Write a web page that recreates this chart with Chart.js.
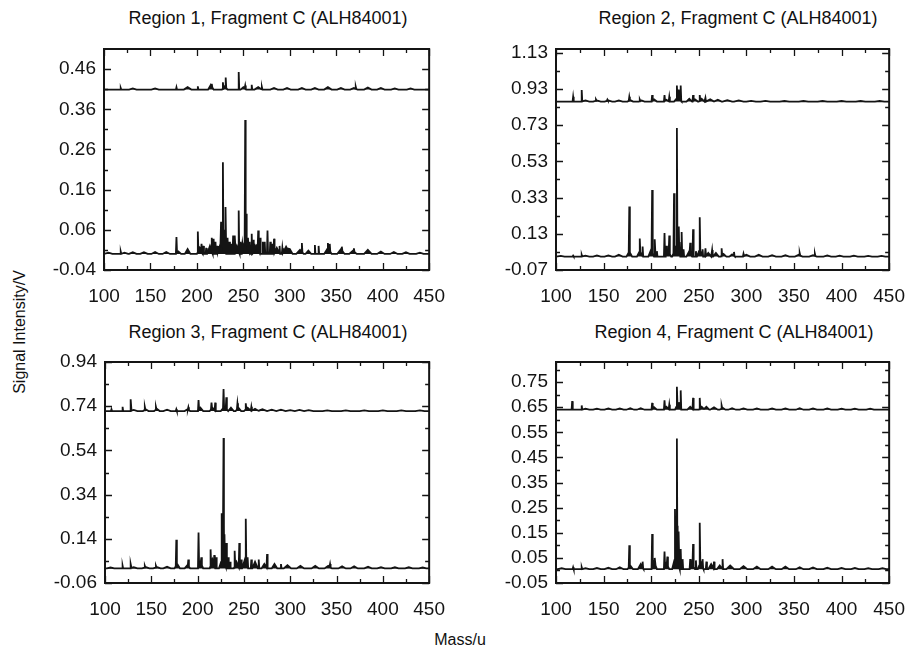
<!DOCTYPE html>
<html>
<head>
<meta charset="utf-8">
<title>ALH84001 Fragment C spectra</title>
<script src="https://cdn.jsdelivr.net/npm/chart.js@4.4.1/dist/chart.umd.min.js"></script>
<style>
    html, body { margin: 0; padding: 0; background: #fff; }
    #page {
        position: relative;
        width: 920px;
        height: 653px;
        font-family: "Liberation Sans", Arial, sans-serif;
        color: #111;
    }
    .panel { position: absolute; }
    .ttl {
        position: absolute;
        font-size: 18px;
        white-space: nowrap;
        transform: translate(-50%, -50%);
    }
    #ylab {
        position: absolute;
        left: 20px;
        top: 332px;
        font-size: 16px;
        white-space: nowrap;
        transform: translate(-50%, -50%) rotate(-90deg);
    }
    #xlab {
        position: absolute;
        left: 460px;
        top: 640px;
        font-size: 16px;
        transform: translate(-50%, -50%);
    }
</style>
</head>
<body>
<div id="page">
    <div class="ttl" style="left:268px; top:18px">Region 1, Fragment C (ALH84001)</div>
    <div class="ttl" style="left:738px; top:18px">Region 2, Fragment C (ALH84001)</div>
    <div class="ttl" style="left:268px; top:332px">Region 3, Fragment C (ALH84001)</div>
    <div class="ttl" style="left:734px; top:332px">Region 4, Fragment C (ALH84001)</div>
    <div id="ylab">Signal Intensity/V</div>
    <div id="xlab">Mass/u</div>
    <canvas id="c1" class="panel" width="460" height="310" style="left:0; top:0"></canvas>
    <canvas id="c2" class="panel" width="460" height="310" style="left:460px; top:0"></canvas>
    <canvas id="c3" class="panel" width="460" height="310" style="left:0; top:313px"></canvas>
    <canvas id="c4" class="panel" width="460" height="310" style="left:460px; top:313px"></canvas>
</div>
<script>
// ---- data ----
// mass axis (u): labelled ticks, minor ticks fall half way between
const massLabels = [100, 150, 200, 250, 300, 350, 400, 450];

// y axes (V): [min, max] and the labelled tick values
const yRange1 = [-0.04, 0.51];
const yLabels1 = [-0.04, 0.06, 0.16, 0.26, 0.36, 0.46];
const yRange2 = [-0.07, 1.15];
const yLabels2 = [-0.07, 0.13, 0.33, 0.53, 0.73, 0.93, 1.13];
const yRange3 = [-0.06, 0.94];
const yLabels3 = [-0.06, 0.14, 0.34, 0.54, 0.74, 0.94];
const yRange4 = [-0.05, 0.83];
const yLabels4 = [-0.05, 0.05, 0.15, 0.25, 0.35, 0.45, 0.55, 0.65, 0.75];

// baselines of the lower and the offset upper trace, per region
const base1 = [0.0, 0.409];
const base2 = [0.004, 0.86];
const base3 = [0.006, 0.718];
const base4 = [0.005, 0.64];

// peaks as [mass, height above baseline, half width in u]
const r1Low = [
    [105, 0.003, 4], [118, 0.006, 0.6], [122, 0.003, 4], [131, 0.004, 4], [143, 0.004, 4],
    [155, 0.005, 4], [167, 0.005, 4], [178, 0.042, 0.6], [180, 0.006, 3], [190, 0.012, 3],
    [201, 0.056, 0.6], [203, 0.015, 3], [205, 0.025, 0.6], [207, 0.02, 0.6], [210, 0.015, 0.6],
    [214, 0.02, 3], [216, 0.04, 0.6], [218, 0.038, 0.6], [220, 0.03, 0.6], [222, 0.02, 0.6],
    [226, 0.03, 4], [226, 0.08, 0.6], [228, 0.228, 0.6], [230, 0.06, 0.6], [231, 0.117, 0.6],
    [233, 0.04, 0.6], [235, 0.03, 0.6], [237, 0.025, 0.6], [239, 0.046, 0.6], [241, 0.046, 0.6],
    [243, 0.02, 3], [245, 0.108, 0.6], [247, 0.03, 0.6], [249, 0.025, 0.6], [252, 0.035, 4],
    [252, 0.333, 0.6], [253, 0.1, 0.6], [255, 0.04, 0.6], [256, 0.03, 0.6], [257, 0.03, 0.6],
    [259, 0.05, 0.6], [261, 0.035, 0.6], [262, 0.025, 0.6], [264, 0.02, 4], [266, 0.058, 0.6],
    [268, 0.04, 0.6], [271, 0.03, 0.6], [273, 0.03, 0.6], [276, 0.058, 0.6], [279, 0.03, 0.6],
    [281, 0.025, 0.6], [283, 0.038, 0.6], [286, 0.015, 3], [289, 0.02, 0.6], [292, 0.015, 0.6],
    [296, 0.018, 4], [300, 0.012, 3], [311, 0.01, 4], [313, 0.027, 0.6], [320, 0.008, 3],
    [327, 0.022, 0.6], [331, 0.02, 0.6], [341, 0.015, 4], [341, 0.027, 0.6], [343, 0.025, 0.6],
    [355, 0.012, 4], [356, 0.018, 0.6], [368, 0.008, 4], [369, 0.014, 0.6], [384, 0.01, 4],
    [398, 0.006, 4], [412, 0.005, 4], [425, 0.004, 4], [440, 0.003, 4]
];
const r1High = [
    [118, 0.004, 0.6], [131, 0.003, 4], [155, 0.003, 4], [178, 0.006, 0.6], [190, 0.006, 4],
    [201, 0.008, 0.6], [215, 0.012, 3], [216, 0.014, 0.6], [228, 0.018, 0.6], [230, 0.008, 3],
    [231, 0.03, 0.6], [245, 0.044, 0.6], [250, 0.006, 3], [252, 0.01, 0.6], [259, 0.012, 0.6],
    [266, 0.006, 4], [270, 0.006, 0.6], [283, 0.004, 4], [297, 0.004, 4], [313, 0.004, 4],
    [327, 0.004, 4], [341, 0.006, 4], [355, 0.004, 4], [369, 0.004, 4], [371, 0.007, 0.6],
    [384, 0.005, 4], [398, 0.004, 4], [413, 0.003, 4], [430, 0.003, 4]
];

const r2Low = [
    [105, 0.004, 4], [118, 0.005, 0.6], [127, 0.01, 0.6], [131, 0.005, 4], [143, 0.006, 4],
    [155, 0.007, 4], [166, 0.01, 4], [177, 0.028, 3], [177, 0.276, 0.6], [188, 0.03, 3],
    [188, 0.1, 0.6], [191, 0.056, 0.6], [200, 0.04, 3], [201, 0.368, 0.6], [204, 0.096, 0.6],
    [206, 0.03, 0.6], [214, 0.13, 0.6], [216, 0.06, 0.6], [218, 0.03, 3], [219, 0.116, 0.6],
    [224, 0.35, 0.6], [226, 0.05, 4], [227, 0.71, 0.6], [229, 0.166, 0.6], [230, 0.08, 0.6],
    [232, 0.136, 0.6], [234, 0.04, 0.6], [240, 0.03, 3], [241, 0.076, 0.6], [244, 0.151, 0.6],
    [247, 0.03, 0.6], [251, 0.04, 3], [251, 0.217, 0.6], [254, 0.04, 0.6], [257, 0.046, 0.6],
    [260, 0.02, 3], [264, 0.036, 0.6], [268, 0.02, 3], [274, 0.046, 0.6], [276, 0.015, 3],
    [285, 0.012, 3], [287, 0.026, 0.6], [297, 0.016, 0.6], [300, 0.01, 4], [313, 0.01, 4],
    [327, 0.008, 4], [341, 0.008, 4], [355, 0.01, 4], [356, 0.02, 0.6], [370, 0.008, 4],
    [372, 0.016, 0.6], [385, 0.006, 4], [398, 0.005, 4], [413, 0.005, 4], [428, 0.004, 4],
    [442, 0.004, 4]
];
const r2High = [
    [118, 0.026, 0.6], [127, 0.064, 0.6], [131, 0.006, 4], [142, 0.011, 0.6], [143, 0.006, 4],
    [154, 0.011, 0.6], [155, 0.006, 4], [166, 0.006, 4], [177, 0.026, 0.6], [178, 0.008, 3],
    [188, 0.011, 0.6], [190, 0.006, 3], [201, 0.036, 0.6], [203, 0.012, 3], [214, 0.036, 0.6],
    [216, 0.01, 3], [219, 0.026, 0.6], [227, 0.088, 0.6], [228, 0.025, 4], [229, 0.066, 0.6],
    [231, 0.088, 0.6], [240, 0.015, 3], [244, 0.036, 0.6], [246, 0.012, 3], [251, 0.036, 0.6],
    [253, 0.015, 3], [257, 0.021, 0.6], [262, 0.012, 4], [270, 0.01, 4], [280, 0.008, 5],
    [292, 0.006, 5], [305, 0.004, 5], [320, 0.004, 5], [340, 0.003, 5], [360, 0.003, 5],
    [380, 0.003, 5], [400, 0.003, 5], [420, 0.003, 5], [440, 0.003, 5]
];

const r3Low = [
    [106, 0.004, 4], [119, 0.012, 0.6], [128, 0.02, 0.6], [131, 0.005, 4], [143, 0.012, 0.6],
    [144, 0.006, 4], [155, 0.012, 0.6], [156, 0.006, 4], [167, 0.008, 4], [177, 0.13, 0.6],
    [178, 0.02, 3], [189, 0.015, 3], [190, 0.04, 0.6], [201, 0.162, 0.6], [203, 0.03, 3],
    [204, 0.05, 0.6], [214, 0.086, 0.6], [216, 0.04, 3], [218, 0.06, 0.6], [220, 0.05, 0.6],
    [226, 0.25, 0.6], [227, 0.05, 4], [228, 0.59, 0.6], [229, 0.155, 0.6], [231, 0.115, 0.6],
    [233, 0.05, 0.6], [235, 0.03, 0.6], [240, 0.08, 0.6], [242, 0.03, 3], [245, 0.115, 0.6],
    [247, 0.04, 0.6], [251, 0.04, 3], [252, 0.225, 0.6], [254, 0.05, 0.6], [258, 0.04, 0.6],
    [262, 0.03, 3], [266, 0.04, 0.6], [272, 0.02, 3], [275, 0.065, 0.6], [283, 0.02, 3],
    [290, 0.02, 0.6], [297, 0.015, 4], [311, 0.012, 4], [327, 0.012, 4], [341, 0.012, 4],
    [343, 0.02, 0.6], [356, 0.01, 4], [369, 0.01, 4], [384, 0.008, 4], [398, 0.006, 4],
    [413, 0.005, 4], [428, 0.005, 4], [443, 0.004, 4]
];
const r3High = [
    [107, 0.008, 0.6], [119, 0.019, 0.6], [128, 0.053, 0.6], [131, 0.005, 4], [143, 0.019, 0.6],
    [144, 0.008, 3], [155, 0.019, 0.6], [156, 0.01, 3], [167, 0.006, 4], [177, 0.008, 0.6],
    [189, 0.008, 3], [190, 0.017, 0.6], [201, 0.05, 0.6], [203, 0.015, 3], [215, 0.038, 0.6],
    [216, 0.015, 3], [219, 0.038, 0.6], [228, 0.1, 0.6], [229, 0.02, 4], [231, 0.062, 0.6],
    [236, 0.015, 3], [243, 0.035, 0.6], [244, 0.015, 3], [252, 0.035, 0.6], [254, 0.015, 4],
    [258, 0.019, 0.6], [262, 0.01, 4], [270, 0.008, 5], [280, 0.006, 5], [290, 0.006, 5],
    [300, 0.004, 5], [310, 0.005, 5], [320, 0.004, 5], [340, 0.003, 5], [360, 0.003, 5],
    [380, 0.003, 5], [400, 0.003, 5], [420, 0.003, 5], [440, 0.003, 5]
];

const r4Low = [
    [106, 0.004, 4], [118, 0.008, 0.6], [127, 0.008, 0.6], [131, 0.004, 4], [143, 0.005, 4],
    [155, 0.006, 4], [167, 0.008, 4], [177, 0.095, 0.6], [178, 0.015, 3], [189, 0.02, 3],
    [191, 0.03, 0.6], [201, 0.14, 0.6], [203, 0.03, 3], [204, 0.045, 0.6], [214, 0.07, 0.6],
    [216, 0.025, 3], [217, 0.05, 0.6], [225, 0.24, 0.6], [226, 0.06, 4], [227, 0.52, 0.6],
    [228, 0.09, 0.6], [229, 0.15, 0.6], [231, 0.08, 0.6], [233, 0.04, 0.6], [241, 0.04, 0.6],
    [243, 0.02, 3], [244, 0.1, 0.6], [247, 0.035, 0.6], [251, 0.185, 0.6], [252, 0.03, 3],
    [254, 0.04, 0.6], [258, 0.03, 0.6], [263, 0.02, 3], [266, 0.03, 0.6], [272, 0.015, 3],
    [275, 0.04, 0.6], [283, 0.015, 4], [297, 0.012, 4], [311, 0.01, 4], [327, 0.01, 4],
    [341, 0.01, 4], [356, 0.008, 4], [370, 0.007, 4], [385, 0.006, 4], [400, 0.005, 4],
    [414, 0.005, 4], [428, 0.004, 4], [443, 0.004, 4]
];
const r4High = [
    [117, 0.034, 0.6], [127, 0.017, 0.6], [131, 0.004, 4], [143, 0.004, 4], [155, 0.005, 4],
    [167, 0.005, 4], [178, 0.006, 4], [189, 0.006, 4], [201, 0.027, 0.6], [203, 0.01, 3],
    [214, 0.037, 0.6], [216, 0.012, 3], [219, 0.02, 0.6], [227, 0.091, 0.6], [228, 0.025, 3],
    [229, 0.03, 0.6], [231, 0.077, 0.6], [241, 0.012, 3], [244, 0.047, 0.6], [251, 0.047, 0.6],
    [253, 0.012, 3], [258, 0.012, 3], [266, 0.01, 4], [274, 0.017, 0.6], [275, 0.008, 3],
    [285, 0.006, 4], [297, 0.005, 4], [311, 0.005, 4], [327, 0.005, 4], [341, 0.005, 4],
    [356, 0.006, 4], [370, 0.005, 4], [385, 0.005, 4], [400, 0.004, 4], [414, 0.004, 4],
    [430, 0.004, 4]
];

// ---- drawing ----
const INK = "#141414";
const FONT = "'Liberation Sans', Arial, sans-serif";

// outline of the peak list (each peak a narrow triangle) sitting on its baseline
function spectrum(peaks, base) {
    const xs = new Set([massLabels[0], massLabels[massLabels.length - 1]]);
    peaks.forEach(([m, , w]) => {
        xs.add(m - w);
        xs.add(m);
        xs.add(m + w);
    });
    return [...xs]
        .sort((a, b) => a - b)
        .map((x) => {
            let top = 0;
            peaks.forEach(([m, h, w]) => {
                top = Math.max(top, h * Math.max(0, 1 - Math.abs(x - m) / w));
            });
            return { x: x, y: base + top };
        });
}

// labelled values plus the unlabelled ones half way between
function withMinor(labels, max) {
    const out = [];
    labels.forEach((v, i) => {
        out.push(v);
        const step = i < labels.length - 1 ? labels[i + 1] - v : v - labels[i - 1];
        const mid = +(v + step / 2).toFixed(4);
        if (mid < max - 1e-6) out.push(mid);
    });
    return out;
}

function isLabel(labels, v) {
    return labels.some((l) => Math.abs(l - v) < 1e-6);
}

// inward tick marks on all four sides and the closed frame
const frameTicks = {
    id: "frameTicks",
    afterDraw(chart) {
        const { ctx, chartArea: a, scales } = chart;
        const { x, y } = scales;
        ctx.save();
        ctx.strokeStyle = INK;
        ctx.lineWidth = 1.3;
        ctx.beginPath();
        x.ticks.forEach((t) => {
            const px = Math.round(x.getPixelForValue(t.value)) + 0.5;
            const len = t.label ? 7 : 4;
            ctx.moveTo(px, a.bottom);
            ctx.lineTo(px, a.bottom - len);
            ctx.moveTo(px, a.top);
            ctx.lineTo(px, a.top + len);
        });
        y.ticks.forEach((t) => {
            const py = Math.round(y.getPixelForValue(t.value)) + 0.5;
            const len = t.label ? 7 : 4;
            ctx.moveTo(a.left, py);
            ctx.lineTo(a.left + len, py);
            ctx.moveTo(a.right, py);
            ctx.lineTo(a.right - len, py);
        });
        ctx.stroke();
        ctx.lineWidth = 2;
        ctx.strokeRect(a.left, a.top, a.width, a.height);
        ctx.restore();
    },
};

function traceDataset(peaks, base) {
    return {
        data: spectrum(peaks, base),
        borderColor: INK,
        backgroundColor: INK,
        borderWidth: 1.8,
        pointRadius: 0,
        tension: 0,
        fill: { value: base },
    };
}

function makePanel(canvasId, low, high, bases, yRange, yLabels, plotLeft, padRight) {
    const xTicks = withMinor(massLabels, massLabels[massLabels.length - 1] + 1);
    const yTicks = withMinor(yLabels, yRange[1]);
    return new Chart(document.getElementById(canvasId), {
        type: "line",
        data: {
            datasets: [traceDataset(low, bases[0]), traceDataset(high, bases[1])],
        },
        options: {
            responsive: false,
            animation: false,
            events: [],
            layout: { padding: { left: 0, right: padRight, top: 49, bottom: 0 } },
            plugins: { legend: { display: false }, tooltip: { enabled: false } },
            scales: {
                x: {
                    type: "linear",
                    min: massLabels[0],
                    max: massLabels[massLabels.length - 1],
                    afterBuildTicks: (s) => {
                        s.ticks = xTicks.map((v) => ({ value: v }));
                    },
                    afterFit: (s) => {
                        s.height = 40;
                    },
                    grid: { display: false, drawTicks: false },
                    border: { display: false },
                    ticks: {
                        autoSkip: false,
                        maxRotation: 0,
                        padding: 15,
                        color: INK,
                        font: { family: FONT, size: 19 },
                        callback: (v) => (isLabel(massLabels, v) ? String(v) : ""),
                    },
                },
                y: {
                    type: "linear",
                    min: yRange[0],
                    max: yRange[1],
                    afterBuildTicks: (s) => {
                        s.ticks = yTicks.map((v) => ({ value: v }));
                    },
                    afterFit: (s) => {
                        s.width = plotLeft;
                    },
                    grid: { display: false, drawTicks: false },
                    border: { display: false },
                    ticks: {
                        autoSkip: false,
                        padding: 8,
                        color: INK,
                        font: { family: FONT, size: 19 },
                        callback: (v) => (isLabel(yLabels, v) ? v.toFixed(2) : ""),
                    },
                },
            },
        },
        plugins: [frameTicks],
    });
}

makePanel("c1", r1Low, r1High, base1, yRange1, yLabels1, 104, 6);
makePanel("c2", r2Low, r2High, base2, yRange2, yLabels2, 96, 15);
makePanel("c3", r3Low, r3High, base3, yRange3, yLabels3, 105, 6);
makePanel("c4", r4Low, r4High, base4, yRange4, yLabels4, 96, 15);
</script>
</body>
</html>
